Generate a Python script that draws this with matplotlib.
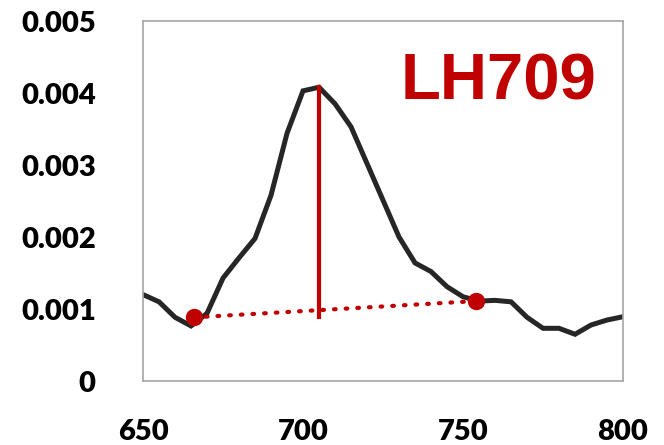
import matplotlib
matplotlib.use("Agg")
import matplotlib.pyplot as plt

# absorbance spectrum around the 709 nm band
wavelength = [650, 655, 660, 665, 670, 675, 680, 685, 690, 695, 700, 705, 710,
              715, 720, 725, 730, 735, 740, 745, 750, 755, 760, 765, 770, 775,
              780, 785, 790, 795, 800]
absorbance = [0.00120, 0.00110, 0.000885, 0.000765, 0.00094, 0.00143, 0.00171,
              0.00198, 0.00258, 0.00344, 0.00403, 0.00408, 0.00385, 0.00353,
              0.00302, 0.00251, 0.00200, 0.00164, 0.00152, 0.00131, 0.00117,
              0.00111, 0.00112, 0.00110, 0.000885, 0.000732, 0.000732,
              0.000649, 0.000778, 0.000847, 0.000893]

# baseline anchor points and peak position
base_x = [666, 754]
base_y = [0.000884, 0.00111]
peak_x = 705
peak_y = 0.00408
peak_foot = 0.00089

label = "LH709"
red = "#C00000"

fig = plt.figure(figsize=(6.64, 4.45), dpi=100)
ax = fig.add_axes([0.2154, 0.1438, 0.7229, 0.809])

ax.plot(wavelength, absorbance, color="#262626", lw=3.6, solid_joinstyle="miter", zorder=2)
ax.plot(base_x, base_y, color=red, lw=3, ls=(0, (0.4, 2.4)), dash_capstyle="round", zorder=3)
ax.plot(base_x, base_y, "o", color=red, ms=11.5, ls="none", zorder=4)
ax.plot([peak_x, peak_x], [peak_foot, peak_y], color=red, lw=3, zorder=3)

ax.text(0.74, 0.83, label, transform=ax.transAxes, color=red, fontsize=47,
        fontweight="bold", family="Liberation Sans", ha="center", va="center")

ax.set_xlim(650, 800)
ax.set_ylim(0, 0.005)
ax.set_xticks([650, 700, 750, 800])
ax.set_yticks([0, 0.001, 0.002, 0.003, 0.004, 0.005])
ax.set_yticklabels(["0", "0.001", "0.002", "0.003", "0.004", "0.005"])
ax.tick_params(length=0, labelsize=21, pad=27)
ax.tick_params(axis="y", pad=34)
for t in ax.get_xticklabels() + ax.get_yticklabels():
    t.set_fontweight("heavy")
    t.set_family("Lato")
for s in ax.spines.values():
    s.set_color("#A6A6A6")
    s.set_linewidth(1.2)

fig.savefig("out.png", dpi=100)
